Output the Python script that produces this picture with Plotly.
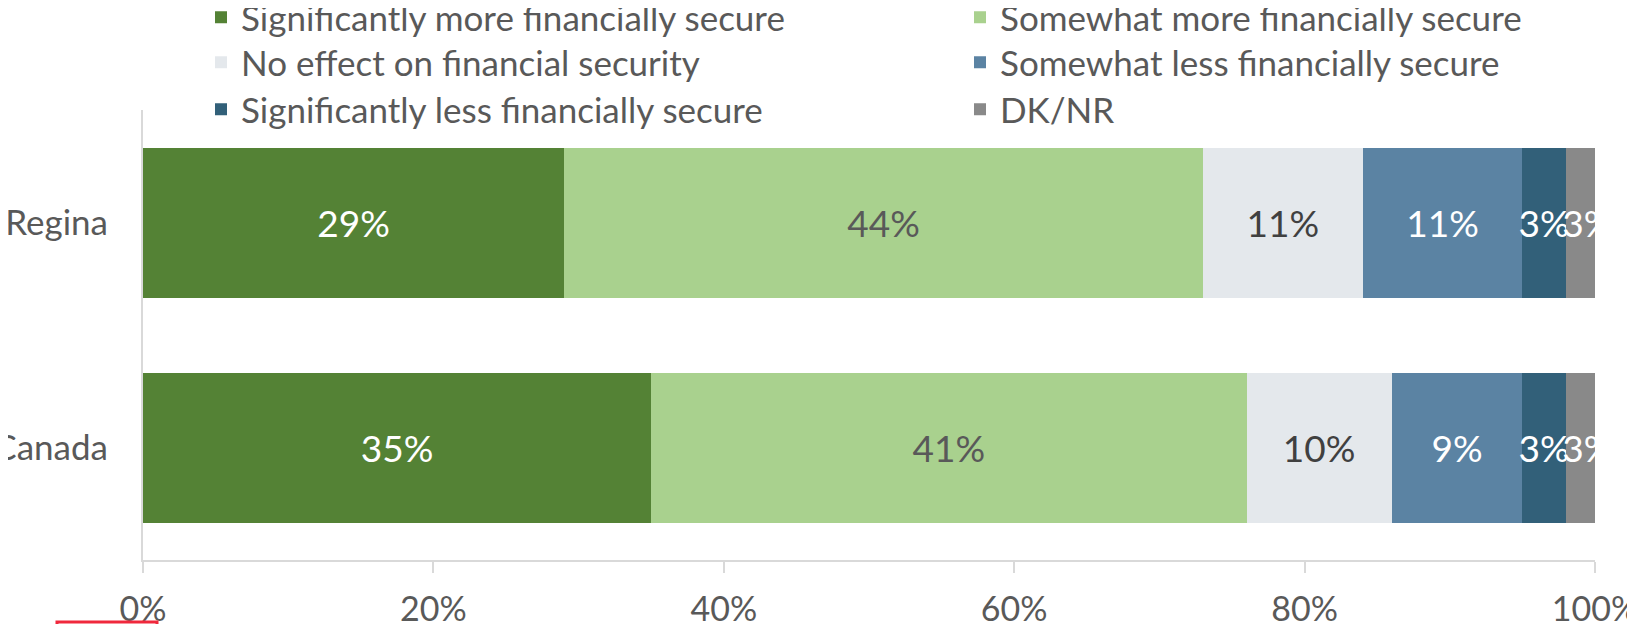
import plotly.graph_objects as go

categories = ["Regina", "Canada"]
series_names = [
    "Significantly more financially secure",
    "Somewhat more financially secure",
    "No effect on financial security",
    "Somewhat less financially secure",
    "Significantly less financially secure",
    "DK/NR",
]
sig_more = [29, 35]
some_more = [44, 41]
no_effect = [11, 10]
some_less = [11, 9]
sig_less = [3, 3]
dk_nr = [3, 3]
series_values = [sig_more, some_more, no_effect, some_less, sig_less, dk_nr]

colors = ["#548235", "#A9D18E", "#E4E8EC", "#5B83A3", "#326079", "#898989"]
text_colors = ["#FFFFFF", "#595959", "#404040", "#FFFFFF", "#FFFFFF", "#FFFFFF"]

tick_vals = [0, 20, 40, 60, 80, 100]
tick_text = ["0%", "20%", "40%", "60%", "80%", "100%"]

FONT = "Lato"
FS = 35
LBL = 37
TICK = 34
# the page is drawn with an 8px body margin, so the figure is offset by 8px
OFF = 8
W, H = 1635, 624
L, T, B = 143 - OFF, 110 - OFF, 72
PW = 1452
R = W - L - PW
PH = H - T - B

# legend grid: two columns, three rows (entries laid out row by row)
leg_cols_px = [193, 952]
leg_rows_top_px = [-20, 25, 72]

fig = go.Figure()
legend_layouts = {}
for i, (name, vals, col, tcol) in enumerate(zip(series_names, series_values, colors, text_colors)):
    lname = "legend" if i == 0 else f"legend{i + 1}"
    fig.add_trace(go.Bar(
        y=categories, x=vals, name=name, orientation="h",
        marker=dict(color=col, line=dict(width=0)),
        text=[f"{v}%" for v in vals], textposition="inside",
        insidetextanchor="middle", textangle=0,
        textfont=dict(family=FONT, size=LBL, color=tcol),
        cliponaxis=True, legend=lname,
    ))
    cx = leg_cols_px[i % 2]
    ry = leg_rows_top_px[i // 2]
    legend_layouts[lname] = dict(
        orientation="v", x=(cx - L) / PW, xanchor="left",
        y=1 + (T - ry) / PH, yanchor="top",
        font=dict(family=FONT, size=FS, color="#595959"),
        bgcolor="rgba(0,0,0,0)", itemclick=False, itemdoubleclick=False,
    )

fig.update_layout(
    width=W, height=H,
    margin=dict(l=L, r=R, t=T, b=B, pad=0, autoexpand=False),
    barmode="stack", bargap=1/3,
    plot_bgcolor="white", paper_bgcolor="white",
    font=dict(family=FONT, size=FS, color="#595959"),
    uniformtext=dict(minsize=LBL, mode="show"),
    xaxis=dict(
        range=[0, 100], tickvals=tick_vals, ticktext=tick_text, automargin=False,
        showgrid=False, zeroline=False, showline=True, linecolor="#D9D9D9", linewidth=2,
        ticks="outside", ticklen=11, tickcolor="#D9D9D9", tickwidth=2,
        ticklabelstandoff=7, ticklabeloverflow="allow",
        tickfont=dict(family=FONT, size=TICK, color="#595959"),
    ),
    yaxis=dict(
        autorange="reversed", showgrid=False, zeroline=False, automargin=False,
        showline=True, linecolor="#D9D9D9", linewidth=2,
        ticklabelstandoff=26, ticklabeloverflow="allow",
        tickfont=dict(family=FONT, size=FS, color="#595959"),
    ),
    showlegend=True,
    **legend_layouts,
)

# red marker outline at bottom-left (frame fragment visible in the source image)
fig.add_shape(type="rect", xref="paper", yref="paper",
              x0=(57 - OFF - L) / PW, x1=(157 - OFF - L) / PW,
              y0=-(622 - OFF - T - PH) / PH, y1=-(660 - OFF - T - PH) / PH,
              line=dict(color="#F0283C", width=3), fillcolor="rgba(0,0,0,0)", layer="above")

fig.write_html("out.html")
